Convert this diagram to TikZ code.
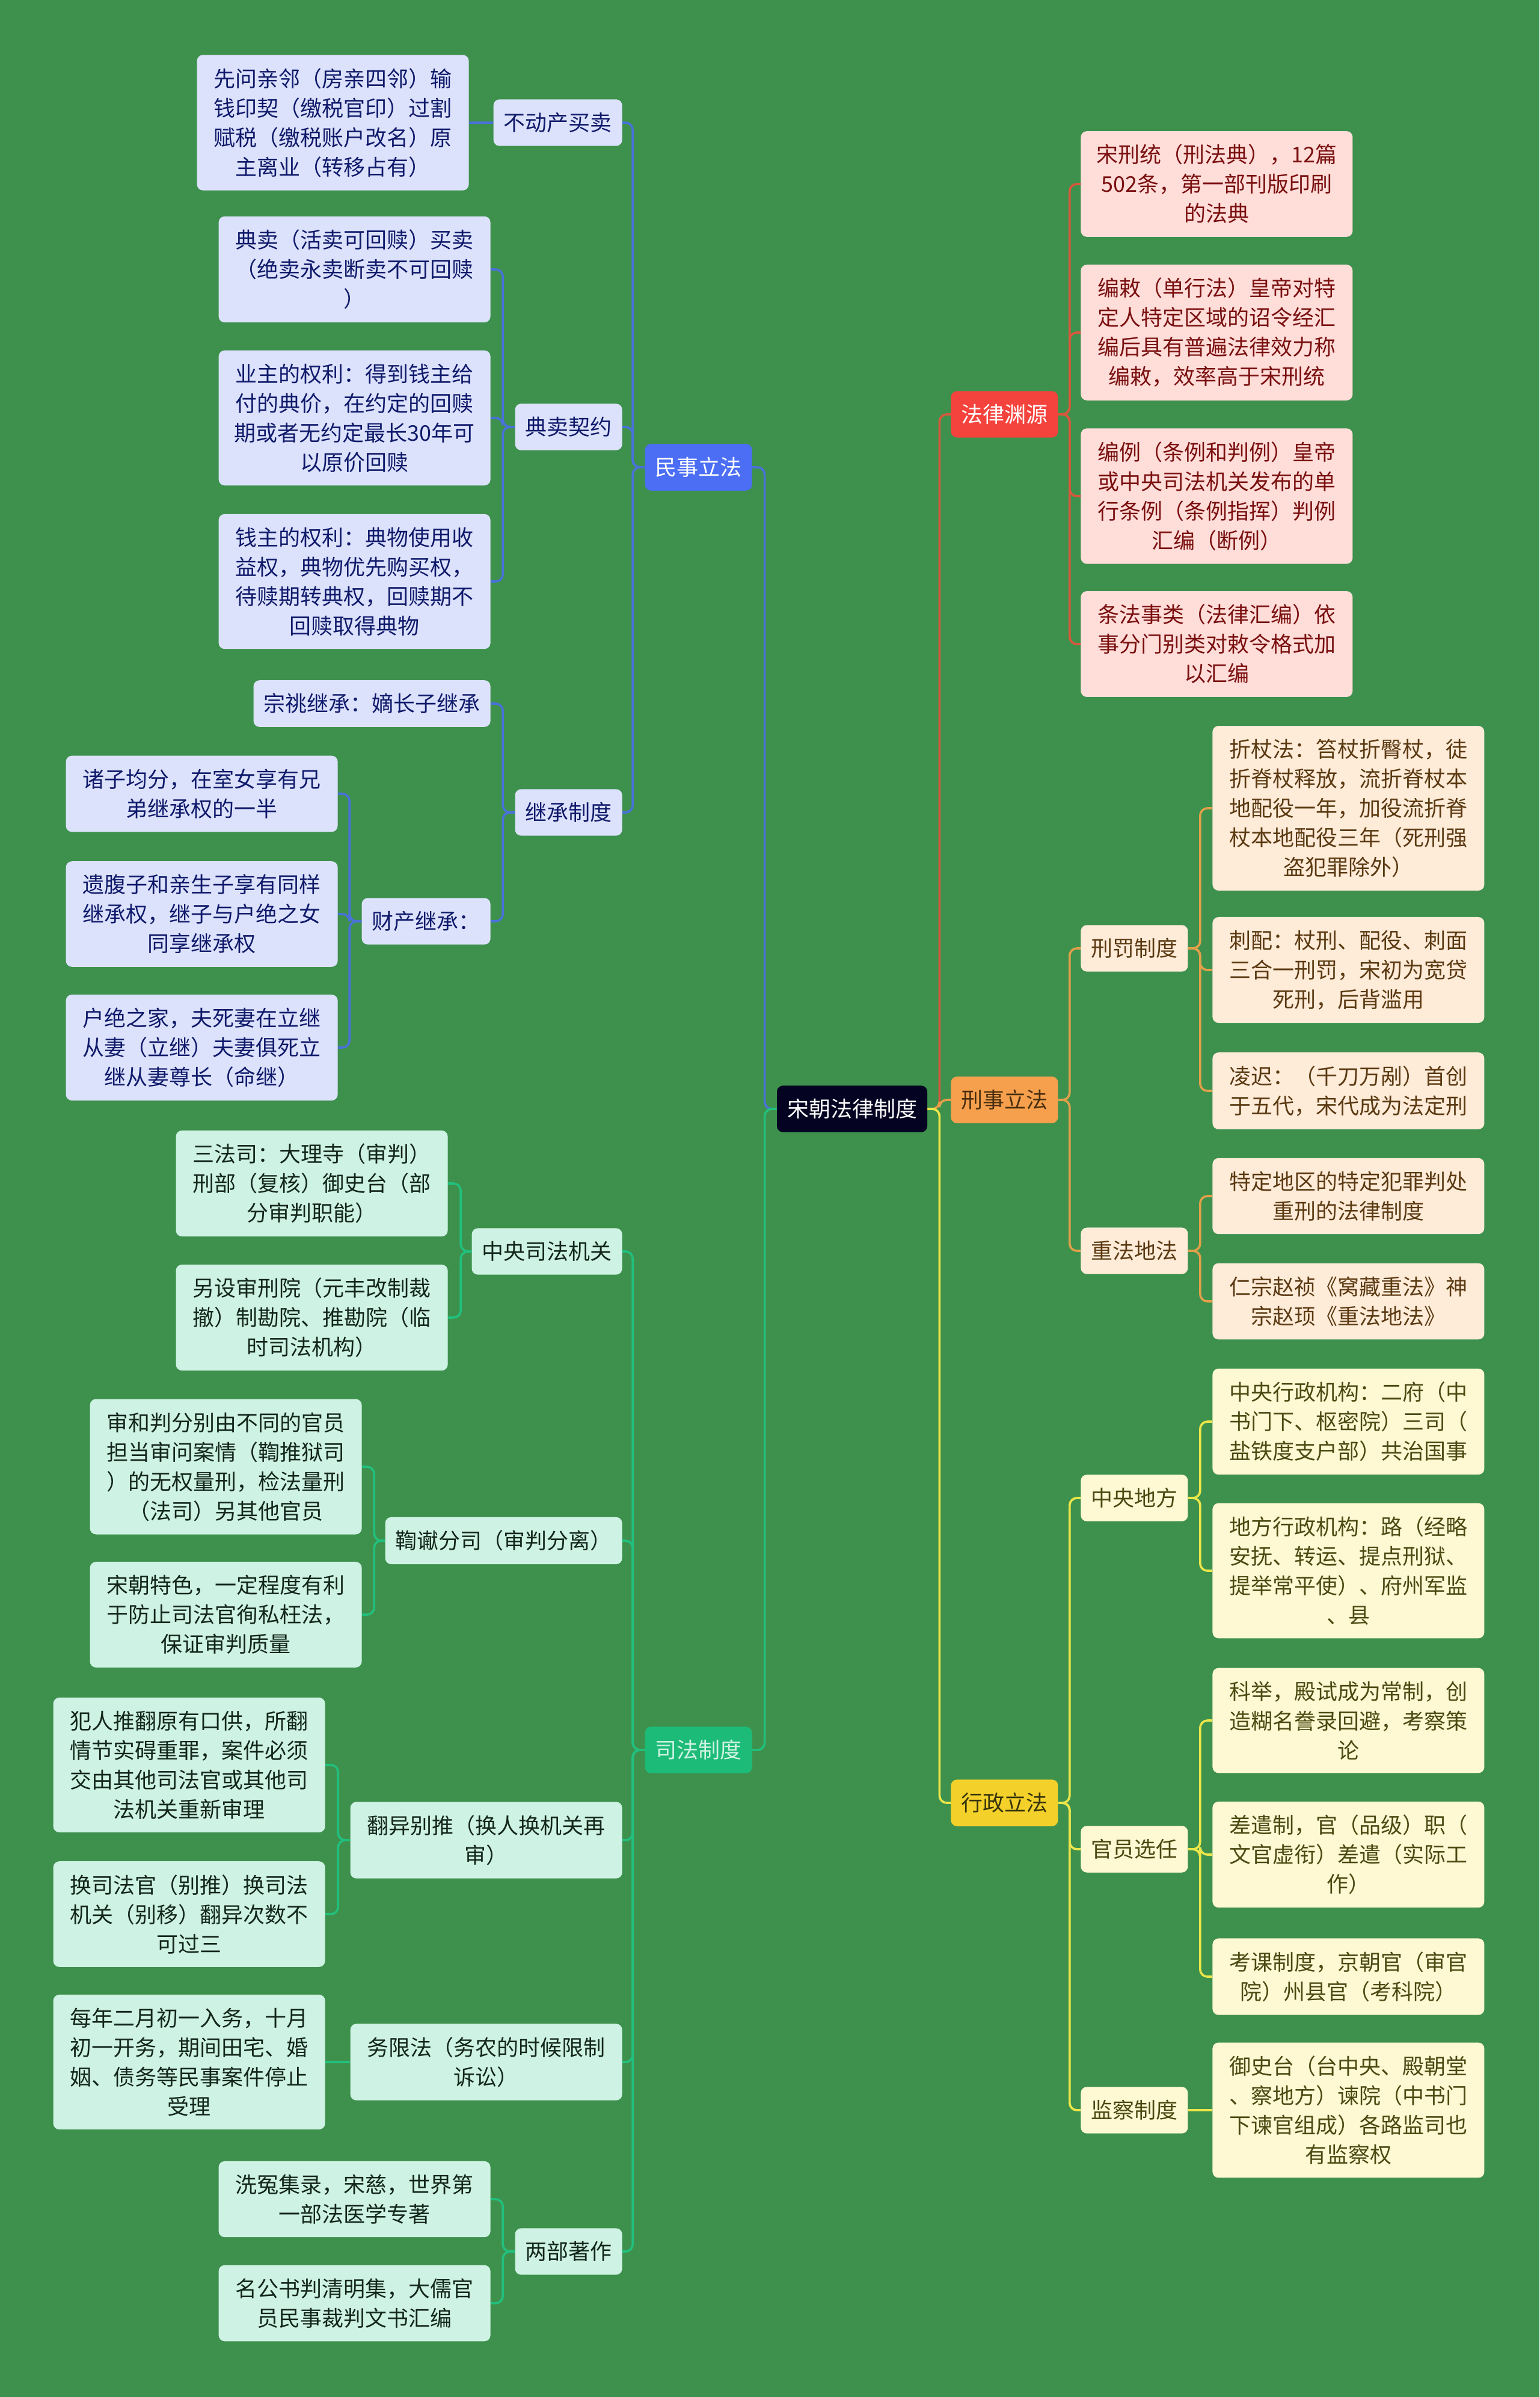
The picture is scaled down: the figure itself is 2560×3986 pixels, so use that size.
\documentclass[tikz,border=0pt]{standalone}
\usepackage{fontspec}
\setmainfont{Noto Sans CJK SC}
\usetikzlibrary{positioning}
\definecolor{bgGreen}{HTML}{3E914D}
\definecolor{rootFill}{HTML}{050322}
\definecolor{civFill}{HTML}{4B6EF5}
\definecolor{civLeaf}{HTML}{DCE2FB}
\definecolor{civText}{HTML}{101A6B}
\definecolor{civLine}{HTML}{4A72DA}
\definecolor{judFill}{HTML}{1DBB78}
\definecolor{judLeaf}{HTML}{CEF2E3}
\definecolor{judText}{HTML}{13261C}
\definecolor{judLine}{HTML}{21C07E}
\definecolor{srcFill}{HTML}{F4433C}
\definecolor{srcLeaf}{HTML}{FFDDD9}
\definecolor{srcText}{HTML}{7A1010}
\definecolor{srcLine}{HTML}{D9573D}
\definecolor{crmFill}{HTML}{F6A04D}
\definecolor{crmLeaf}{HTML}{FEEBD8}
\definecolor{crmText}{HTML}{5B3A12}
\definecolor{crmLine}{HTML}{E3A04A}
\definecolor{admFill}{HTML}{F4D12A}
\definecolor{admLeaf}{HTML}{FEF8D3}
\definecolor{admText}{HTML}{4B4A12}
\definecolor{admLine}{HTML}{EDE64A}

\begin{document}
\begin{tikzpicture}[x=0.5pt, y=-0.5pt,
        box/.style={rounded corners=5pt, align=center, inner xsep=8.5pt, inner ysep=11pt, font=\fontsize{18}{24.5}\selectfont},
        wide/.style={box, minimum width=226pt},
        rootbox/.style={box, fill=rootFill, text=white},
        civmain/.style={box, fill=civFill, text=white},
        civbox/.style={box, fill=civLeaf, text=civText},
        judmain/.style={box, fill=judFill, text=judLeaf},
        judbox/.style={box, fill=judLeaf, text=judText},
        srcmain/.style={box, fill=srcFill, text=white},
        srcbox/.style={box, fill=srcLeaf, text=srcText},
        crmmain/.style={box, fill=crmFill, text=crmText!80!black},
        crmbox/.style={box, fill=crmLeaf, text=crmText},
        admmain/.style={box, fill=admFill, text=admText!70!black},
        admbox/.style={box, fill=admLeaf, text=admText},
        link/.style={line width=1.8pt, rounded corners=6pt},
        toleft/.style={anchor=east},
        toright/.style={anchor=west}
    ]
        \fill[bgGreen] (0,0) rectangle (2560,3986);
        \useasboundingbox (0,0) rectangle (2560,3986);

        \node[rootbox] (root) at (1417,1844) {宋朝法律制度};

        % 民事立法
        \node[civmain, toleft] (msfl) at (1251,777) {民事立法};
        \node[civbox, toleft] (bdc) at (1035,204) {不动产买卖};
        \node[civbox, toleft] (dmqy) at (1035,710) {典卖契约};
        \node[civbox, toleft] (jczd) at (1035,1351) {继承制度};
        \node[civbox, wide, toleft] (xwql) at (780,204) {先问亲邻（房亲四邻）输\\钱印契（缴税官印）过割\\赋税（缴税账户改名）原\\主离业（转移占有）};
        \node[civbox, wide, toleft] (dmhs) at (816,448) {典卖（活卖可回赎）买卖\\（绝卖永卖断卖不可回赎\\）};
        \node[civbox, wide, toleft] (yzql) at (816,695) {业主的权利：得到钱主给\\付的典价，在约定的回赎\\期或者无约定最长30年可\\以原价回赎};
        \node[civbox, wide, toleft] (qzql) at (816,967) {钱主的权利：典物使用收\\益权，典物优先购买权，\\待赎期转典权，回赎期不\\回赎取得典物};
        \node[civbox, toleft] (ztjc) at (816,1170) {宗祧继承：嫡长子继承};
        \node[civbox, toleft] (ccjc) at (816,1532) {财产继承：};
        \node[civbox, wide, toleft] (zzjf) at (562,1320) {诸子均分，在室女享有兄\\弟继承权的一半};
        \node[civbox, wide, toleft] (yfz) at (562,1520) {遗腹子和亲生子享有同样\\继承权，继子与户绝之女\\同享继承权};
        \node[civbox, wide, toleft] (hjzj) at (562,1742) {户绝之家，夫死妻在立继\\从妻（立继）夫妻俱死立\\继从妻尊长（命继）};

        % 司法制度
        \node[judmain, toleft] (sfzd) at (1251,2910) {司法制度};
        \node[judbox, toleft] (zysf) at (1035,2081) {中央司法机关};
        \node[judbox, toleft] (jyfs) at (1035,2562) {鞫谳分司（审判分离）};
        \node[judbox, wide, toleft] (fybt) at (1035,3060) {翻异别推（换人换机关再\\审）};
        \node[judbox, wide, toleft] (wxf) at (1035,3429) {务限法（务农的时候限制\\诉讼）};
        \node[judbox, toleft] (lbzz) at (1035,3744) {两部著作};
        \node[judbox, wide, toleft] (sfs) at (745,1968) {三法司：大理寺（审判）\\刑部（复核）御史台（部\\分审判职能）};
        \node[judbox, wide, toleft] (lssx) at (745,2191) {另设审刑院（元丰改制裁\\撤）制勘院、推勘院（临\\时司法机构）};
        \node[judbox, wide, toleft] (shp) at (602,2439) {审和判分别由不同的官员\\担当审问案情（鞫推狱司\\）的无权量刑，检法量刑\\（法司）另其他官员};
        \node[judbox, wide, toleft] (sczs) at (602,2685) {宋朝特色，一定程度有利\\于防止司法官徇私枉法，\\保证审判质量};
        \node[judbox, wide, toleft] (frtf) at (541,2935) {犯人推翻原有口供，所翻\\情节实碍重罪，案件必须\\交由其他司法官或其他司\\法机关重新审理};
        \node[judbox, wide, toleft] (hsfg) at (541,3183) {换司法官（别推）换司法\\机关（别移）翻异次数不\\可过三};
        \node[judbox, wide, toleft] (mnem) at (541,3429) {每年二月初一入务，十月\\初一开务，期间田宅、婚\\姻、债务等民事案件停止\\受理};
        \node[judbox, wide, toleft] (xyjl) at (816,3657) {洗冤集录，宋慈，世界第\\一部法医学专著};
        \node[judbox, wide, toleft] (mgsp) at (816,3830) {名公书判清明集，大儒官\\员民事裁判文书汇编};

        % 法律渊源
        \node[srcmain, toright] (flyy) at (1581,689) {法律渊源};
        \node[srcbox, wide, toright] (sxt) at (1797,306) {宋刑统（刑法典），12篇\\502条，第一部刊版印刷\\的法典};
        \node[srcbox, wide, toright] (bc) at (1797,553) {编敕（单行法）皇帝对特\\定人特定区域的诏令经汇\\编后具有普遍法律效力称\\编敕，效率高于宋刑统};
        \node[srcbox, wide, toright] (bl) at (1797,825) {编例（条例和判例）皇帝\\或中央司法机关发布的单\\行条例（条例指挥）判例\\汇编（断例）};
        \node[srcbox, wide, toright] (tfsl) at (1797,1071) {条法事类（法律汇编）依\\事分门别类对敕令格式加\\以汇编};

        % 刑事立法
        \node[crmmain, toright] (xslf) at (1581,1829) {刑事立法};
        \node[crmbox, toright] (xfzd) at (1797,1577) {刑罚制度};
        \node[crmbox, toright] (zfdf) at (1797,2080) {重法地法};
        \node[crmbox, wide, toright] (zzf) at (2016,1344) {折杖法：笞杖折臀杖，徒\\折脊杖释放，流折脊杖本\\地配役一年，加役流折脊\\杖本地配役三年（死刑强\\盗犯罪除外）};
        \node[crmbox, wide, toright] (cp) at (2016,1613) {刺配：杖刑、配役、刺面\\三合一刑罚，宋初为宽贷\\死刑，后背滥用};
        \node[crmbox, wide, toright] (lc) at (2016,1814) {凌迟：（千刀万剐）首创\\于五代，宋代成为法定刑};
        \node[crmbox, wide, toright] (tddq) at (2016,1989) {特定地区的特定犯罪判处\\重刑的法律制度};
        \node[crmbox, wide, toright] (rz) at (2016,2164) {仁宗赵祯《窝藏重法》神\\宗赵顼《重法地法》};

        % 行政立法
        \node[admmain, toright] (xzlf) at (1581,2998) {行政立法};
        \node[admbox, toright] (zydf) at (1797,2491) {中央地方};
        \node[admbox, toright] (gyxr) at (1797,3075) {官员选任};
        \node[admbox, toright] (jcz) at (1797,3509) {监察制度};
        \node[admbox, wide, toright] (zyxz) at (2016,2364) {中央行政机构：二府（中\\书门下、枢密院）三司（\\盐铁度支户部）共治国事};
        \node[admbox, wide, toright] (dfxz) at (2016,2612) {地方行政机构：路（经略\\安抚、转运、提点刑狱、\\提举常平使）、府州军监\\、县};
        \node[admbox, wide, toright] (kj) at (2016,2861) {科举，殿试成为常制，创\\造糊名誊录回避，考察策\\论};
        \node[admbox, wide, toright] (cqz) at (2016,3084) {差遣制，官（品级）职（\\文官虚衔）差遣（实际工\\作）};
        \node[admbox, wide, toright] (kkzd) at (2016,3287) {考课制度，京朝官（审官\\院）州县官（考科院）};
        \node[admbox, wide, toright] (yst) at (2016,3509) {御史台（台中央、殿朝堂\\、察地方）谏院（中书门\\下谏官组成）各路监司也\\有监察权};

        % connectors
        \draw[link, civLine] (root.west) -- ++(-20,0) |- (msfl.east);
        \draw[link, judLine] (root.west) -- ++(-20,0) |- (sfzd.east);
        \draw[link, srcLine] (root.east) -- ++(20,0) |- (flyy.west);
        \draw[link, crmLine] (root.east) -- ++(20,0) |- (xslf.west);
        \draw[link, admLine] (root.east) -- ++(20,0) |- (xzlf.west);

        \foreach \c in {bdc, dmqy, jczd}
            \draw[link, civLine] (msfl.west) -- ++(-20,0) |- (\c.east);
        \draw[link, civLine] (bdc.west) -- (xwql.east);
        \foreach \c in {dmhs, yzql, qzql}
            \draw[link, civLine] (dmqy.west) -- ++(-20,0) |- (\c.east);
        \foreach \c in {ztjc, ccjc}
            \draw[link, civLine] (jczd.west) -- ++(-20,0) |- (\c.east);
        \foreach \c in {zzjf, yfz, hjzj}
            \draw[link, civLine] (ccjc.west) -- ++(-20,0) |- (\c.east);

        \foreach \c in {zysf, jyfs, fybt, wxf, lbzz}
            \draw[link, judLine] (sfzd.west) -- ++(-20,0) |- (\c.east);
        \foreach \c in {sfs, lssx}
            \draw[link, judLine] (zysf.west) -- ++(-18,0) |- (\c.east);
        \foreach \c in {shp, sczs}
            \draw[link, judLine] (jyfs.west) -- ++(-18,0) |- (\c.east);
        \foreach \c in {frtf, hsfg}
            \draw[link, judLine] (fybt.west) -- ++(-20,0) |- (\c.east);
        \draw[link, judLine] (wxf.west) -- (mnem.east);
        \foreach \c in {xyjl, mgsp}
            \draw[link, judLine] (lbzz.west) -- ++(-20,0) |- (\c.east);

        \foreach \c in {sxt, bc, bl, tfsl}
            \draw[link, srcLine] (flyy.east) -- ++(19,0) |- (\c.west);
        \foreach \c in {xfzd, zfdf}
            \draw[link, crmLine] (xslf.east) -- ++(19,0) |- (\c.west);
        \foreach \c in {zzf, cp, lc}
            \draw[link, crmLine] (xfzd.east) -- ++(20,0) |- (\c.west);
        \foreach \c in {tddq, rz}
            \draw[link, crmLine] (zfdf.east) -- ++(20,0) |- (\c.west);
        \foreach \c in {zydf, gyxr, jcz}
            \draw[link, admLine] (xzlf.east) -- ++(19,0) |- (\c.west);
        \foreach \c in {zyxz, dfxz}
            \draw[link, admLine] (zydf.east) -- ++(20,0) |- (\c.west);
        \foreach \c in {kj, cqz, kkzd}
            \draw[link, admLine] (gyxr.east) -- ++(20,0) |- (\c.west);
        \draw[link, admLine] (jcz.east) -- (yst.west);
    \end{tikzpicture}
\end{document}
